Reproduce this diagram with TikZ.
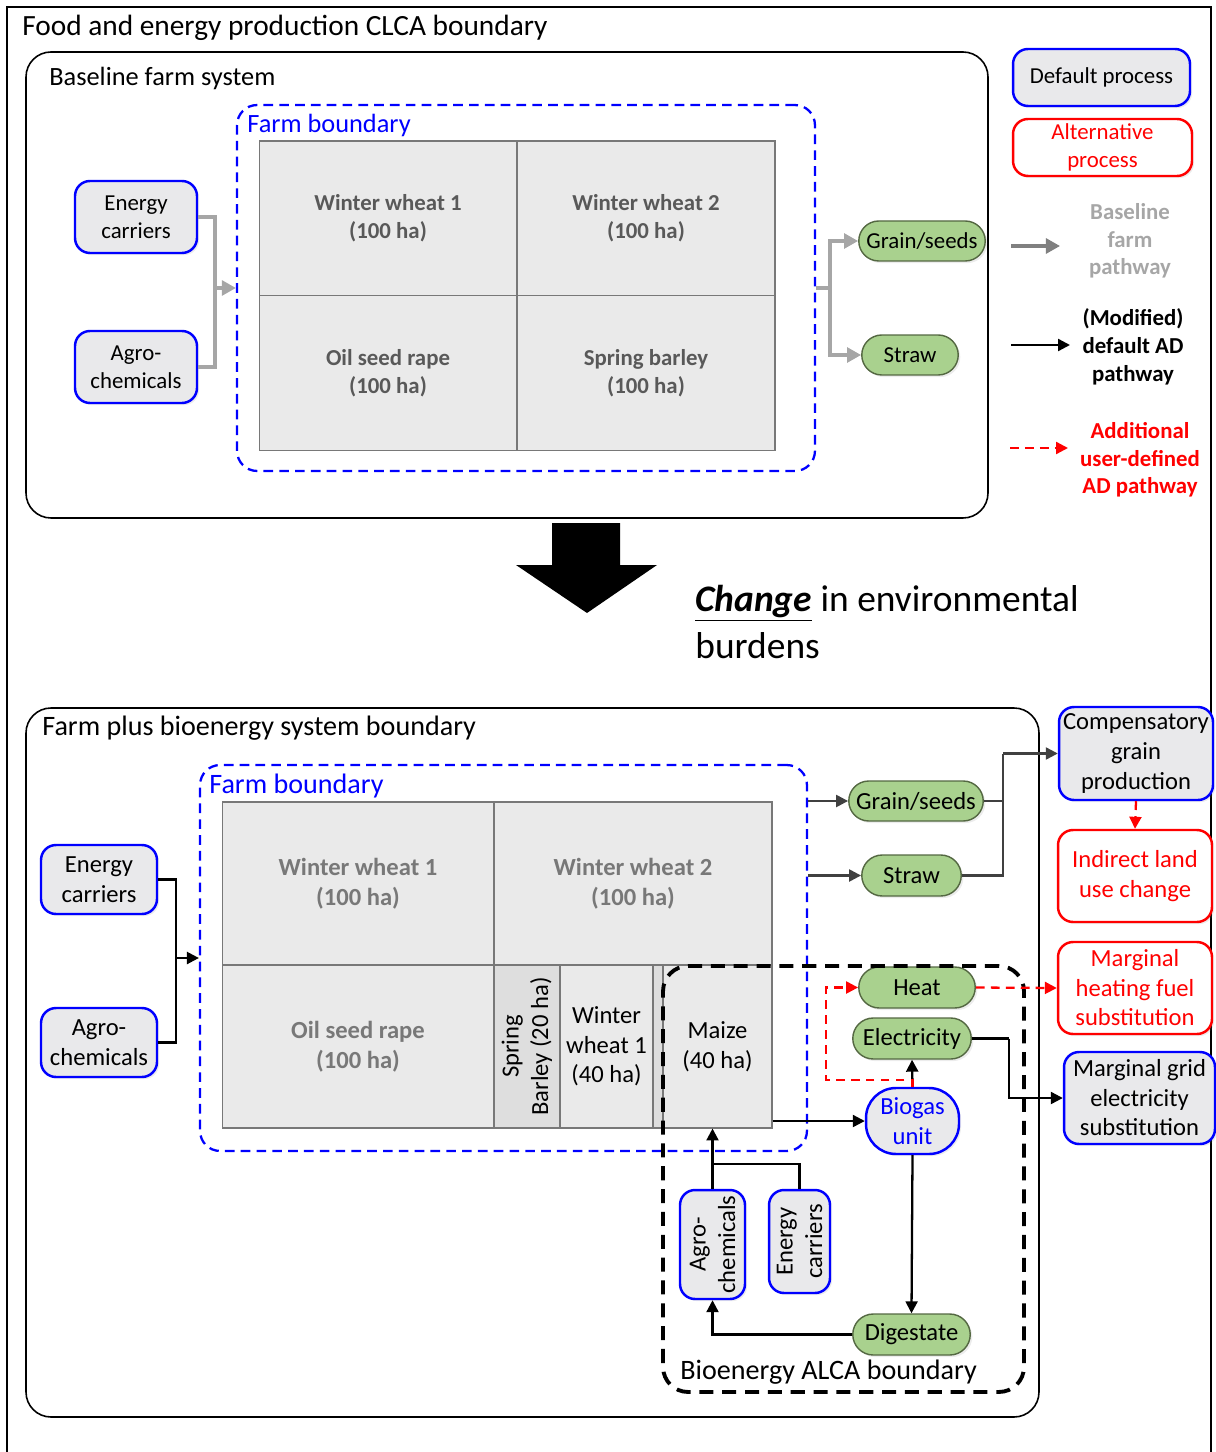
\documentclass[tikz,border=0pt]{standalone}
\usepackage{fontspec}
\setmainfont{Carlito}
\usepackage{tikz}
\usetikzlibrary{shapes.misc,arrows.meta,shadows}

\definecolor{procfill}{RGB}{233,233,235}
\definecolor{fieldfill}{RGB}{234,234,234}
\definecolor{fielddark}{RGB}{222,222,222}
\definecolor{fieldline}{RGB}{120,120,120}
\definecolor{fieldtext}{RGB}{89,89,89}
\definecolor{fieldlight}{RGB}{120,120,120}
\definecolor{prodfill}{RGB}{169,209,142}
\definecolor{prodline}{RGB}{84,104,66}
\definecolor{basegray}{RGB}{166,166,166}
\definecolor{basedark}{RGB}{128,128,128}
\definecolor{darkpath}{RGB}{64,64,64}

\newcommand{\txtsm}{\fontsize{13}{15.8}\selectfont}
\newcommand{\txtmd}{\fontsize{14}{16.8}\selectfont}
\newcommand{\txtlg}{\fontsize{16}{19.2}\selectfont}
\newcommand{\txthg}{\fontsize{21.3}{26.5}\selectfont}

\begin{document}
\begin{tikzpicture}
[x=0.02cm,y=-0.02cm,>={Triangle[length=6.8pt,width=6.8pt]},
 defproc/.style={rectangle,rounded corners=3mm,draw=blue,line width=1.4pt,fill=procfill,
   align=center,inner sep=1pt,drop shadow={opacity=0.15,shadow xshift=1.2pt,shadow yshift=-1.2pt}},
 altproc/.style={defproc,draw=red,fill=white,text=red},
 product/.style={rounded rectangle,draw=prodline,line width=0.8pt,fill=prodfill,inner sep=1pt,
   drop shadow={opacity=0.15,shadow xshift=1.2pt,shadow yshift=-1.2pt}},
 field/.style={rectangle,draw=fieldline,line width=0.6pt,fill=fieldfill,align=center,inner sep=0pt},
 topfield/.style={field,font=\txtsm\bfseries,text=fieldtext,minimum width=5.16cm,minimum height=3.1cm},
 botfield/.style={field,font=\txtmd,minimum height=3.26cm},
 farmbnd/.style={rectangle,draw=blue,line width=1.3pt,dash pattern=on 5.5pt off 3.5pt,rounded corners=4mm},
 alcabnd/.style={rectangle,draw=black,line width=2.2pt,dash pattern=on 8pt off 5pt,rounded corners=5mm},
 sysbox/.style={draw,line width=0.9pt,rounded corners=5mm},
 lbl/.style={anchor=west,inner sep=0pt},
 basepath/.style={color=basegray,line width=1.8pt},
 basetip/.style={-{Triangle[length=8pt,width=8.5pt]}},
 adpath/.style={color=black,line width=1.3pt},
 darkpath/.style={color=darkpath,line width=1.3pt},
 userpath/.style={color=red,line width=1.3pt,dash pattern=on 5pt off 3.5pt},
 hv path/.style={to path={-| (\tikztotarget)}},
 vh path/.style={to path={|- (\tikztotarget)}}]
\useasboundingbox (0,0) rectangle (1215,1452);
\draw[line width=1.1pt] (7,1452) -- (7,7) -- (1211,7) -- (1211,1452);
\node[lbl,font=\fontsize{16.7}{20}\selectfont] (clca) at (22,28) {Food and energy production CLCA boundary};
%
% baseline farm system
\draw[sysbox] (26,52) rectangle (988,518);
\node[lbl,font=\fontsize{15}{18}\selectfont] (basesys) at (49,78) {Baseline farm system};
\node[farmbnd,minimum width=11.56cm,minimum height=7.32cm] (fbtop) at (526,288) {};
\node[lbl,font=\fontsize{15}{18}\selectfont,text=blue] (fbtoplbl) at (247,125) {Farm boundary};
\node[topfield] (ww1top) at (388,218.5) {Winter wheat 1\\(100 ha)};
\node[topfield] (ww2top) at (646,218.5) {Winter wheat 2\\(100 ha)};
\node[topfield] (osrtop) at (388,373) {Oil seed rape\\(100 ha)};
\node[topfield] (sbtop) at (646,373) {Spring barley\\(100 ha)};
\node[defproc,font=\txtsm,minimum width=2.44cm,minimum height=1.44cm] (entop) at (136,217) {Energy\\carriers};
\node[defproc,font=\txtsm,minimum width=2.44cm,minimum height=1.44cm] (agtop) at (136,367) {Agro-\\chemicals};
\node[product,font=\txtsm,minimum width=2.6cm,minimum height=0.8cm] (grtop) at (922,241) {Grain/seeds};
\node[product,font=\txtsm,minimum width=2cm,minimum height=0.8cm] (sttop) at (910,355) {Straw};
\coordinate (injoin) at (215,288);
\coordinate (outjoin) at (830,288);
\path[basepath] (entop.east) edge[hv path] (injoin)
      (agtop.east) edge[hv path] (injoin)
      (injoin) edge[basetip] (fbtop.west)
      (fbtop.east) edge (outjoin)
      (outjoin) edge[vh path,basetip] (grtop.west)
                edge[vh path,basetip] (sttop.west);
%
% legend
\node[defproc,font=\txtsm,minimum width=3.54cm,minimum height=1.14cm] (deflg) at (1101.5,77.5) {Default process};
\node[altproc,font=\txtsm,minimum width=3.58cm,minimum height=1.14cm] (altlg) at (1102.5,147.5) {Alternative\\process};
\node[font=\txtsm\bfseries,text=basegray,align=center] (baselg) at (1130,241) {Baseline\\farm\\pathway};
\node[font=\txtsm\bfseries,align=center] (adlg) at (1133,347) {(Modified)\\default AD\\pathway};
\node[font=\txtsm\bfseries,text=red,align=center] (userlg) at (1140,460) {Additional\\user-defined\\AD pathway};
\coordinate (baselga) at (1011,246);
\coordinate (baselgb) at (1060,246);
\coordinate (adlga) at (1011,345);
\coordinate (adlgb) at (1070,345);
\coordinate (userlga) at (1010,448);
\coordinate (userlgb) at (1068,448);
\draw[basepath,color=basedark,basetip] (baselga) -- (baselgb);
\draw[adpath,->] (adlga) -- (adlgb);
\draw[userpath,->] (userlga) -- (userlgb);
%
% change arrow
\fill (552,523) -- (620,523) -- (620,565) -- (657,565) -- (587,613) -- (516,565) -- (552,565) -- cycle;
\node[anchor=north west,align=left,font=\txthg,inner sep=0pt] (chg) at (695,585)
  {\underline{\textbf{\textit{Change}}} in environmental\\burdens};
%
% farm plus bioenergy system
\draw[sysbox] (26,708) rectangle (1039,1417);
\node[lbl,font=\txtlg] (biosys) at (42,728) {Farm plus bioenergy system boundary};
\node[farmbnd,minimum width=12.14cm,minimum height=7.72cm] (fbbot) at (503.5,958) {};
\node[lbl,font=\txtlg,text=blue] (fbbotlbl) at (209,786) {Farm boundary};
\node[botfield,font=\txtmd\bfseries,text=fieldlight,minimum width=5.44cm] (ww1bot) at (358,883.5) {Winter wheat 1\\(100 ha)};
\node[botfield,font=\txtmd\bfseries,text=fieldlight,minimum width=5.56cm] (ww2bot) at (633,883.5) {Winter wheat 2\\(100 ha)};
\node[botfield,font=\txtmd\bfseries,text=fieldlight,minimum width=5.44cm] (osrbot) at (358,1046.5) {Oil seed rape\\(100 ha)};
\node[field,font=\txtmd,fill=fielddark,rotate=90,minimum width=3.26cm,minimum height=1.32cm] (sbbot) at (527,1046.5) {Spring\\Barley (20 ha)};
\node[botfield,minimum width=1.86cm] (ww1small) at (606.5,1046.5) {Winter\\wheat 1\\(40 ha)};
\node[botfield,fill=fielddark,minimum width=0.2cm] (strip) at (658,1046.5) {};
\node[botfield,minimum width=2.18cm] (maize) at (717.5,1046.5) {Maize\\(40 ha)};
\node[defproc,font=\txtmd,minimum width=2.32cm,minimum height=1.38cm] (enbot) at (99,879.5) {Energy\\carriers};
\node[defproc,font=\txtmd,minimum width=2.32cm,minimum height=1.38cm] (agbot) at (99,1042.5) {Agro-\\chemicals};
\node[product,font=\txtmd,minimum width=2.76cm,minimum height=0.8cm] (grbot) at (916,801) {Grain/seeds};
\node[product,font=\txtmd,minimum width=2.06cm,minimum height=0.82cm] (stbot) at (911.5,875.5) {Straw};
\node[defproc,font=\txtmd,minimum width=3.08cm,minimum height=1.86cm] (comp) at (1136,753.5) {Compensatory\\grain\\production};
\node[altproc,font=\txtmd,minimum width=3.08cm,minimum height=1.84cm] (iluc) at (1135,876) {Indirect land\\use change};
\node[altproc,font=\txtmd,minimum width=3.08cm,minimum height=1.84cm] (mhf) at (1135,988) {Marginal\\heating fuel\\substitution};
\node[defproc,font=\txtmd,minimum width=3.02cm,minimum height=1.84cm] (mge) at (1139.5,1098) {Marginal grid\\electricity\\substitution};
\coordinate (injoinb) at (176,958);
\coordinate (compjoin) at (1003,753.5);
\path[adpath] (enbot.east) edge[hv path] (injoinb)
      (agbot.east) edge[hv path] (injoinb)
      (injoinb) edge[->] (fbbot.west);
\path[darkpath] (fbbot.east |- grbot.west) edge[->] (grbot.west)
      (fbbot.east |- stbot.west) edge[->] (stbot.west)
      (grbot.east) edge (grbot.east -| compjoin)
      (stbot.east) edge[hv path] (compjoin)
      (compjoin) edge[->] (comp.west);
\path[userpath] (comp.south) edge[->] (iluc.north);
%
% bioenergy ALCA
\node[product,font=\txtmd,minimum width=2.4cm,minimum height=0.82cm] (heat) at (917,987.5) {Heat};
\node[product,font=\txtmd,minimum width=2.44cm,minimum height=0.82cm] (elec) at (912,1038.5) {Electricity};
\node[product,font=\txtmd,minimum width=2.42cm,minimum height=0.82cm] (dig) at (911.5,1334.5) {Digestate};
\node[defproc,font=\txtmd,text=blue,rounded corners=6mm,minimum width=1.86cm,minimum height=1.32cm] (biogas) at (912.5,1121) {Biogas\\unit};
\node[defproc,font=\txtmd,rotate=90,minimum width=2.18cm,minimum height=1.3cm] (agalca) at (712.5,1244.5) {Agro-\\chemicals};
\node[defproc,font=\txtmd,rotate=90,minimum width=2.06cm,minimum height=1.22cm] (enalca) at (799.5,1241.5) {Energy\\carriers};
\node[alcabnd,minimum width=7.22cm,minimum height=8.52cm] (alca) at (843.5,1179) {};
\node[lbl,font=\txtlg] (alcalbl) at (680,1372) {Bioenergy ALCA boundary};
\coordinate (ecjoin) at (712.5,1164);
\coordinate (elecjoin) at (1009,1038.5);
\coordinate (heatbend) at (826,1080);
\path[adpath] (biogas.west -| maize.east) edge[->] (biogas.west)
      (biogas.north) edge[->] (elec.south)
      (biogas.south) edge[->] (dig.north)
      (dig.west) edge[hv path,->] (agalca.west)
      (agalca.east) edge[->] (agalca.east |- maize.south)
      (enalca.east) edge[vh path] (ecjoin)
      (elec.east) edge (elecjoin)
      (elecjoin) edge[vh path,->] (mge.west);
\draw[userpath,->] (biogas.north) -- (biogas.north |- heatbend) -- (heatbend) |- (heat.west);
\path[userpath] (heat.east) edge[->] (mhf.west);
\end{tikzpicture}
\end{document}
